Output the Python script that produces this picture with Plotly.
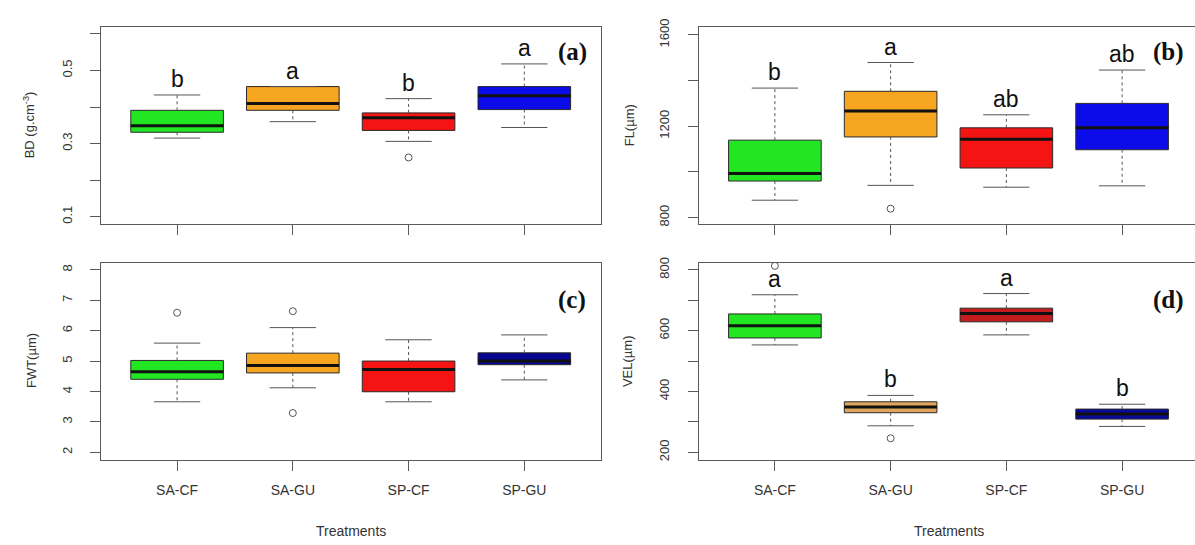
import plotly.graph_objects as go

# ---------------- data ----------------
categories = ["SA-CF", "SA-GU", "SP-CF", "SP-GU"]

# (a) BD (g.cm-3)
bd_low = [0.315, 0.360, 0.306, 0.344]
bd_q1 = [0.331, 0.391, 0.336, 0.393]
bd_med = [0.349, 0.410, 0.371, 0.431]
bd_q3 = [0.391, 0.456, 0.384, 0.456]
bd_high = [0.433, 0.456, 0.423, 0.518]
bd_out = [[], [], [0.262], []]
bd_letters = ["b", "a", "b", "a"]

# (b) FL (um)
fl_low = [876, 941, 933, 939]
fl_q1 = [960, 1153, 1017, 1097]
fl_med = [993, 1267, 1143, 1193]
fl_q3 = [1139, 1353, 1193, 1300]
fl_high = [1367, 1479, 1250, 1446]
fl_out = [[], [839], [], []]
fl_letters = ["b", "a", "ab", "ab"]

# (c) FWT (um)
fwt_low = [3.66, 4.12, 3.66, 4.38]
fwt_q1 = [4.40, 4.61, 3.99, 4.88]
fwt_med = [4.65, 4.85, 4.72, 5.00]
fwt_q3 = [5.02, 5.26, 5.00, 5.27]
fwt_high = [5.59, 6.10, 5.70, 5.86]
fwt_out = [[6.59], [6.64, 3.29], [], []]
fwt_letters = ["", "", "", ""]

# (d) VEL (um)
vel_low = [553, 287, 586, 285]
vel_q1 = [576, 330, 629, 309]
vel_med = [616, 349, 656, 326]
vel_q3 = [655, 366, 674, 342]
vel_high = [718, 387, 722, 358]
vel_out = [[813], [246], [], []]
vel_letters = ["a", "b", "a", "b"]

# y-axis ticks (labelled) and unlabelled ticks
bd_ticks = [0.1, 0.3, 0.5]
bd_minor = [0.2, 0.4, 0.6]
fl_ticks = [800, 1200, 1600]
fl_minor = [1000, 1400]
fwt_ticks = [2, 3, 4, 5, 6, 7, 8]
fwt_minor = []
vel_ticks = [200, 400, 600, 800]
vel_minor = [300, 500, 700]

# ---------------- styling ----------------
W, H = 1195, 545
FONT = "Liberation Sans, Arial, sans-serif"
SERIF = "Liberation Serif, Times New Roman, serif"
AXC = "#5a5a5a"
TXT = "#333333"

pal_ab = ["#22E622", "#F5A520", "#F51414", "#0C0CEB"]
pal_c = ["#22E622", "#F5A520", "#F51414", "#05058F"]
pal_d = ["#22E622", "#E2A55C", "#C41C1C", "#0A0A9A"]

panels = [
    dict(low=bd_low, q1=bd_q1, med=bd_med, q3=bd_q3, high=bd_high, out=bd_out,
         letters=bd_letters, pal=pal_ab, rng=[0.08, 0.62], tv=bd_ticks, mv=bd_minor,
         title="BD (g.cm<sup>-3</sup>)", tag="(a)", xlab=False),
    dict(low=fl_low, q1=fl_q1, med=fl_med, q3=fl_q3, high=fl_high, out=fl_out,
         letters=fl_letters, pal=pal_ab, rng=[772, 1636], tv=fl_ticks, mv=fl_minor,
         title="FL(µm)", tag="(b)", xlab=False),
    dict(low=fwt_low, q1=fwt_q1, med=fwt_med, q3=fwt_q3, high=fwt_high, out=fwt_out,
         letters=fwt_letters, pal=pal_c, rng=[1.76, 8.24], tv=fwt_ticks, mv=fwt_minor,
         title="FWT(µm)", tag="(c)", xlab=True),
    dict(low=vel_low, q1=vel_q1, med=vel_med, q3=vel_q3, high=vel_high, out=vel_out,
         letters=vel_letters, pal=pal_d, rng=[176, 824], tv=vel_ticks, mv=vel_minor,
         title="VEL(µm)", tag="(d)", xlab=True),
]

# panel frames in pixels (left, right, top, bottom)
frames = [
    (100.7, 600.7, 19, 220),
    (698.5, 1198.5, 19, 220),
    (100.7, 600.7, 259.3, 460),
    (698.5, 1198.5, 259.3, 460),
]
title_x = [29, 629, 31, 627]
tag_pos = [(572, 45), (1168, 45), (572, 297), (1168, 297)]

fig = go.Figure()
BOXW = 0.8
CAPW = 0.4
positions = [i + 1 for i in range(len(categories))]

layout = dict(
    width=W, height=H, margin=dict(l=0, r=0, t=0, b=0),
    paper_bgcolor="white", plot_bgcolor="white",
    showlegend=False, font=dict(family=FONT, color=TXT, size=13),
)
annotations = []

for k, p in enumerate(panels):
    n = k + 1
    xa = "x" if n == 1 else f"x{n}"
    ya = "y" if n == 1 else f"y{n}"
    L, R, T, B = frames[k]
    unit = (R - L) / 4.32
    right_px = min(R, W)
    xr = [0.34, 0.34 + (right_px - L) / unit]
    for i, pos in enumerate(positions):
        fig.add_trace(go.Scatter(
            x=[pos, pos, None, pos, pos],
            y=[p["q3"][i], p["high"][i], None, p["q1"][i], p["low"][i]],
            mode="lines", line=dict(color="#555555", width=1, dash="3px,3px"),
            xaxis=xa, yaxis=ya, hoverinfo="skip"))
        fig.add_trace(go.Scatter(
            x=[pos - CAPW / 2, pos + CAPW / 2, None, pos - CAPW / 2, pos + CAPW / 2],
            y=[p["high"][i], p["high"][i], None, p["low"][i], p["low"][i]],
            mode="lines", line=dict(color="#555555", width=1),
            xaxis=xa, yaxis=ya, hoverinfo="skip"))
        fig.add_trace(go.Box(
            x=[pos], q1=[p["q1"][i]], median=[p["med"][i]], q3=[p["q3"][i]],
            lowerfence=[p["q1"][i]], upperfence=[p["q3"][i]],
            width=BOXW, whiskerwidth=0, fillcolor=p["pal"][i],
            line=dict(color="#2a2a2a", width=1), boxpoints=False,
            xaxis=xa, yaxis=ya, hoverinfo="skip", name=categories[i]))
        fig.add_trace(go.Scatter(
            x=[pos - BOXW / 2, pos + BOXW / 2], y=[p["med"][i], p["med"][i]],
            mode="lines", line=dict(color="#111111", width=3),
            xaxis=xa, yaxis=ya, hoverinfo="skip"))
        if p["out"][i]:
            fig.add_trace(go.Scatter(
                x=[pos] * len(p["out"][i]), y=p["out"][i], mode="markers",
                marker=dict(symbol="circle-open", size=7, color="#555555",
                            line=dict(width=1)),
                cliponaxis=False, xaxis=xa, yaxis=ya, hoverinfo="skip"))
        if p["letters"][i]:
            annotations.append(dict(
                x=pos, y=p["high"][i], xref=xa, yref=ya, text=p["letters"][i],
                showarrow=False, xanchor="center", yanchor="bottom", yshift=1,
                font=dict(family=FONT, size=23, color="#111111")))

    xkey = "xaxis" if n == 1 else f"xaxis{n}"
    ykey = "yaxis" if n == 1 else f"yaxis{n}"
    layout[xkey] = dict(
        domain=[L / W, right_px / W], range=xr, anchor=ya,
        tickmode="array", tickvals=positions, ticktext=categories,
        showticklabels=p["xlab"],
        ticks="outside", ticklen=10, tickcolor=AXC, tickwidth=1,
        showline=True, linecolor=AXC, linewidth=1, mirror=True,
        showgrid=False, zeroline=False, ticklabelstandoff=8,
        tickfont=dict(family=FONT, size=14, color=TXT))
    ydict = dict(
        domain=[1 - B / H, 1 - T / H], range=p["rng"], anchor=xa,
        tickmode="array", tickvals=p["tv"], ticktext=[str(v) for v in p["tv"]],
        ticks="outside", ticklen=10, tickcolor=AXC, tickwidth=1,
        showline=True, linecolor=AXC, linewidth=1, mirror=(n in (1, 3)),
        showgrid=False, zeroline=False, tickangle=-90, ticklabelstandoff=13,
        tickfont=dict(family=FONT, size=13, color=TXT))
    if p["mv"]:
        ydict["minor"] = dict(tickmode="array", tickvals=p["mv"], ticks="outside",
                              ticklen=10, tickcolor=AXC, tickwidth=1, showgrid=False)
    layout[ykey] = ydict

    annotations.append(dict(
        x=title_x[k] / W, y=1 - (T + B) / 2 / H, xref="paper", yref="paper",
        xanchor="center", yanchor="middle",
        text=p["title"], textangle=-90, showarrow=False,
        font=dict(family=FONT, size=13, color=TXT)))
    tx, ty = tag_pos[k]
    annotations.append(dict(
        x=tx / W, y=1 - ty / H, xref="paper", yref="paper",
        xanchor="center", yanchor="middle", text="<b>" + p["tag"] + "</b>",
        showarrow=False, font=dict(family=SERIF, size=25, color="#111111")))
    if p["xlab"]:
        annotations.append(dict(
            x=(L + R) / 2 / W, y=1 - 533 / H, xref="paper", yref="paper",
            xanchor="center", yanchor="middle",
            text="Treatments", showarrow=False,
            font=dict(family=FONT, size=14, color=TXT)))

layout["annotations"] = annotations
fig.update_layout(**layout)
fig.write_html("out.html", config={"displayModeBar": False},
               post_script="document.body.style.margin='0';document.body.style.overflow='hidden';")
